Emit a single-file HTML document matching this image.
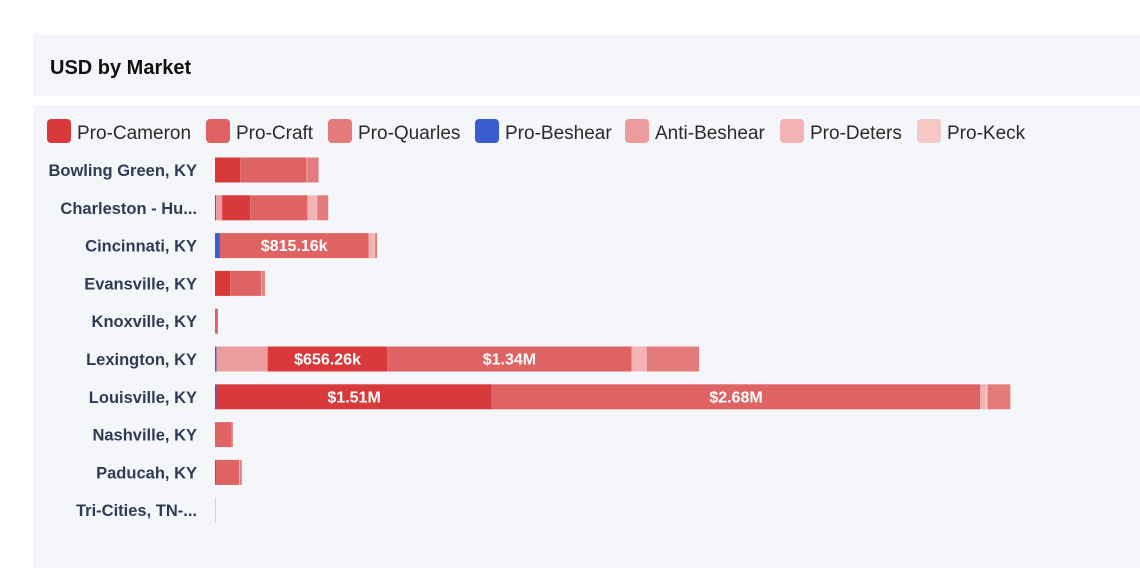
<!DOCTYPE html>
<html><head><meta charset="utf-8"><style>
body{margin:0;background:#fff;width:1140px;height:568px;overflow:hidden;font-family:"Liberation Sans",sans-serif}
</style></head><body>
<svg id="chart" width="1140" height="568">
<rect x="33" y="34" width="1107" height="62" fill="#f5f6fa"/>
<text x="50" y="74" font-size="20" font-weight="bold" fill="#111" font-family="Liberation Sans, sans-serif">USD by Market</text>
<rect x="33" y="105" width="1107" height="463" fill="#f5f6fa"/>
<g id="legend"></g>
<g id="labels"></g>
<g id="bars"></g>
</svg>
<script>
const categories=["Bowling Green, KY","Charleston - Hu...","Cincinnati, KY","Evansville, KY","Knoxville, KY","Lexington, KY","Louisville, KY","Nashville, KY","Paducah, KY","Tri-Cities, TN-..."];
const seriesNames=["Pro-Beshear","Anti-Beshear","Pro-Cameron","Pro-Craft","Pro-Deters","Pro-Keck","Pro-Quarles"];
// values in $k, per series, per category
const proBeshear=[0,6,22,0,0,8,8,0,0,0];
const antiBeshear=[0,33,0,0,0,281,0,0,0,0];
const proCameron=[138,154,5,83,0,656.26,1510,0,5,0];
const proCraft=[364,314,815.16,171,16,1340,2680,88,127,0];
const proDeters=[5,50,33,5,0,83,30,0,5,0];
const proKeck=[0,4,3,0,0,0,10,0,0,5];
const proQuarles=[61,60,11,15,0,287,125,10,10,0];
const series=[proBeshear,antiBeshear,proCameron,proCraft,proDeters,proKeck,proQuarles];
const colors={"Pro-Beshear":"#3b5bd1","Anti-Beshear":"#ec9c9c","Pro-Cameron":"#d83a3c","Pro-Craft":"#e06364","Pro-Deters":"#f1b3b3","Pro-Keck":"#f5c7c7","Pro-Quarles":"#e57c7c"};
const legendOrder=["Pro-Cameron","Pro-Craft","Pro-Quarles","Pro-Beshear","Anti-Beshear","Pro-Deters","Pro-Keck"];
const legendX=[47,206,328,475,625,780,917];

const NS="http://www.w3.org/2000/svg";
const x0=215, pxPerK=0.1823;
const xs=v=>v*pxPerK;
const yc=i=>170+i*37.8;
const barH=25;
function fmt(v){return v>=1000?"$"+(v/1000).toFixed(2)+"M":"$"+v.toFixed(2)+"k";}

const lg=document.getElementById("legend");
legendOrder.forEach((n,i)=>{
  const g=document.createElementNS(NS,"g");
  
  
  const r=document.createElementNS(NS,"rect");
  r.setAttribute("x",legendX[i]);r.setAttribute("y",119);r.setAttribute("width",24);r.setAttribute("height",24);r.setAttribute("rx",4);r.setAttribute("fill",colors[n]);
  
  
  const t=document.createElementNS(NS,"text");
  t.setAttribute("x",legendX[i]+30);t.setAttribute("y",139);t.setAttribute("font-size",19);t.setAttribute("fill","#2a2a2a");
  t.textContent=n;
  
  
  g.appendChild(r);g.appendChild(t);lg.appendChild(g);
});

const lb=document.getElementById("labels"), bg=document.getElementById("bars");
categories.forEach((c,i)=>{
  const t=document.createElementNS(NS,"text");
  t.setAttribute("x",197);t.setAttribute("y",yc(i)+6);t.setAttribute("text-anchor","end");
  t.setAttribute("font-size",16.5);t.setAttribute("font-weight","bold");t.setAttribute("fill","#2f3b55");
  t.textContent=c;
  
  
  lb.appendChild(t);
  let acc=0;
  series.forEach((s,k)=>{
    const v=s[i]; if(!v) return;
    const r=document.createElementNS(NS,"rect");
    r.setAttribute("x",x0+xs(acc));r.setAttribute("y",yc(i)-barH/2);
    r.setAttribute("width",Math.max(xs(v),1));r.setAttribute("height",barH);
    r.setAttribute("fill",colors[seriesNames[k]]);
    
    
    bg.appendChild(r);
    if(xs(v)>100){
      const tt=document.createElementNS(NS,"text");
      tt.setAttribute("x",x0+xs(acc+v/2));tt.setAttribute("y",yc(i)+5.5);tt.setAttribute("text-anchor","middle");
      tt.setAttribute("font-size",16);tt.setAttribute("font-weight","bold");tt.setAttribute("fill","#fff");
      tt.textContent=fmt(v);
      
      
      bg.appendChild(tt);
    }
    acc+=v;
  });
});
</script>
</body></html>
